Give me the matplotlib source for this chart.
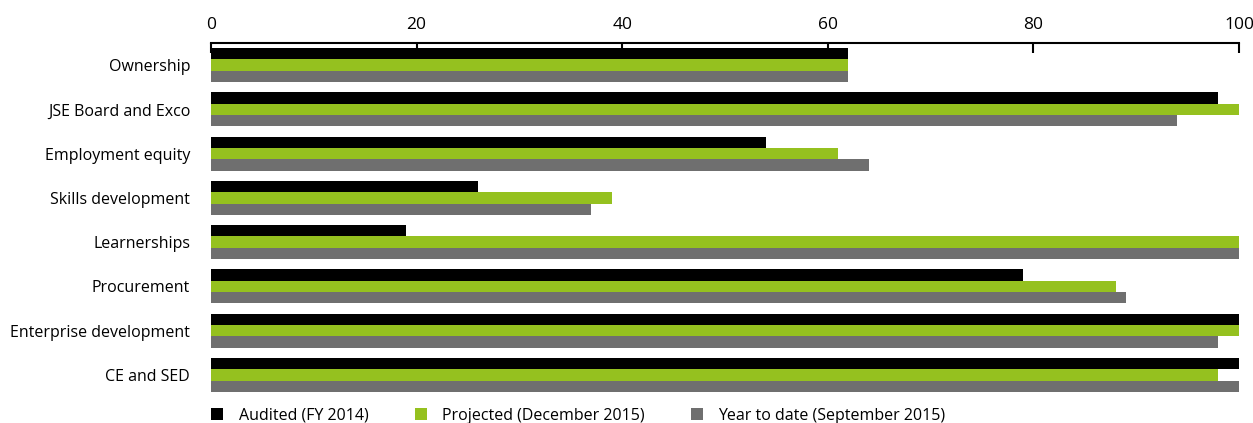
import matplotlib.pyplot as plt
import numpy as np

plt.rc('font', family='Open Sans', size=11.5)

categories = ['Ownership', 'JSE Board and Exco', 'Employment equity', 'Skills development',
              'Learnerships', 'Procurement', 'Enterprise development', 'CE and SED']
audited = [62, 98, 54, 26, 19, 79, 100, 100]
projected = [62, 100, 61, 39, 100, 88, 100, 98]
ytd = [62, 94, 64, 37, 100, 89, 98, 100]
series_names = ['Audited (FY 2014)', 'Projected (December 2015)', 'Year to date (September 2015)']
colors = ['#000000', '#95c11f', '#6f6f6f']

fig = plt.figure(figsize=(12.53, 4.23), dpi=100)
ax = fig.add_axes([211/1253, 1 - 397/423, 1028/1253, 354/423])

y = np.arange(len(categories))
h = 0.256
for k, (vals, name, c) in enumerate(zip([audited, projected, ytd], series_names, colors)):
    ax.barh(y + (k - 1) * h, vals, height=h, color=c, label=name)

ax.set_xlim(0, 100)
ax.set_ylim(len(categories) - 0.5, -0.5)
ax.set_yticks(y)
ax.set_yticklabels(categories)
ax.set_xticks([0, 20, 40, 60, 80, 100])
ax.xaxis.tick_top()
ax.tick_params(axis='x', direction='in', length=7, width=1.5, pad=7, labelsize=12.5)
ax.tick_params(axis='y', length=0, pad=15)
for s in ['left', 'right', 'bottom']:
    ax.spines[s].set_visible(False)
ax.spines['top'].set_linewidth(1.5)

fig.legend(loc='lower left', bbox_to_anchor=(197/1253, -0.036), ncol=3, frameon=False,
           handlelength=0.75, handleheight=0.75, handletextpad=0.95, columnspacing=2.9, fontsize=11.5)

fig.savefig('out.png', dpi=100)
